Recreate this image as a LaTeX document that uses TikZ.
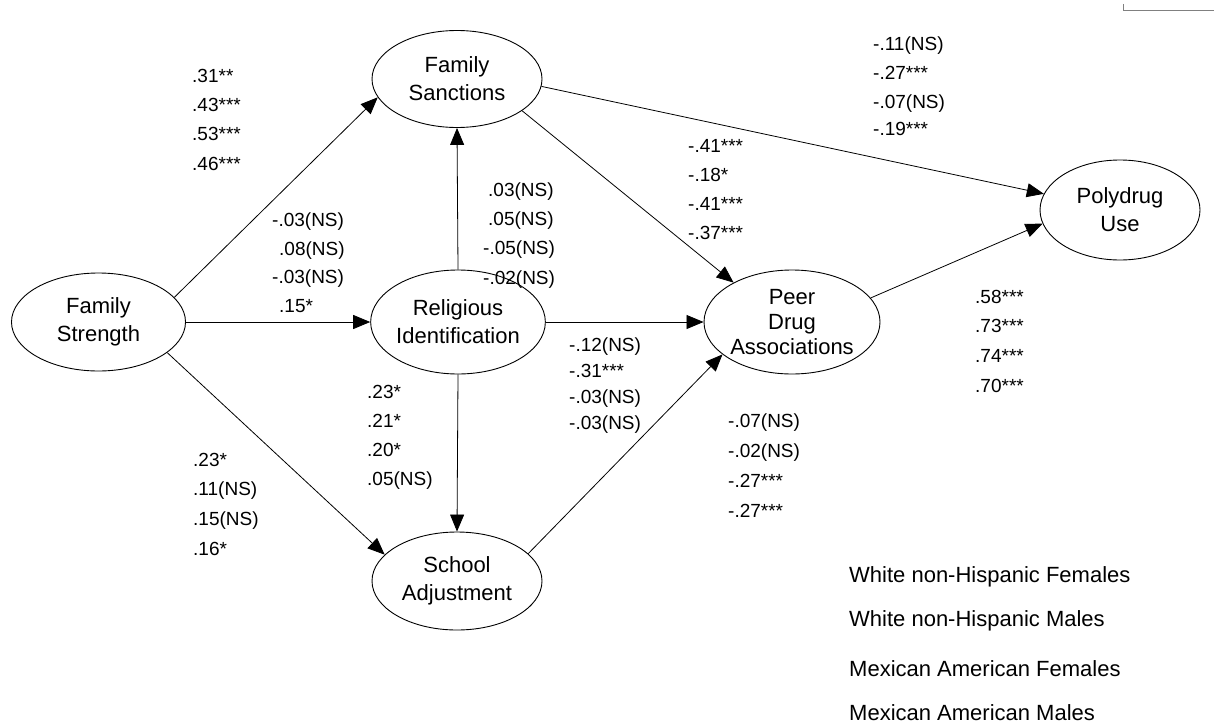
\documentclass[tikz,border=0pt]{standalone}
\usepackage{fontspec}
\setmainfont{Liberation Sans}
\usetikzlibrary{shapes.geometric,arrows.meta}
\newcommand\sig[1]{#1}
\begin{document}
\begin{tikzpicture}[x=1pt,y=-1pt,
  var/.style={ellipse,draw,line width=0.9pt,inner sep=0pt,align=center,font=\fontsize{22}{28}\selectfont},
  arr/.style={-{Triangle[length=17pt,width=14pt]},line width=0.8pt},
  lbl/.style={anchor=base west,inner sep=0pt,font=\fontsize{19}{22}\selectfont},
  leg/.style={anchor=base west,inner sep=0pt,font=\fontsize{22}{25}\selectfont}]
\useasboundingbox (0,0) rectangle (1214,725);
% variables
\node[var,minimum width=174pt,minimum height=98pt] (fs) at (98.5,322) {Family\\Strength};
\node[var,minimum width=170pt,minimum height=97pt] (fsa) at (457,79) {Family\\Sanctions};
\node[var,minimum width=174pt,minimum height=104pt] (ri) at (458,322) {Religious\\Identification};
\node[var,minimum width=170pt,minimum height=98pt] (sa) at (457,581) {School\\Adjustment};
\node[var,minimum width=176pt,minimum height=104pt,font=\fontsize{22}{25}\selectfont] (pda) at (792,322) {Peer\\Drug\\Associations};
\node[var,minimum width=160pt,minimum height=100pt] (pu) at (1120,210) {Polydrug\\Use};
% paths
\draw[arr] (fs.18) -- (fsa.193);
\draw[arr] (fs.east) -- (ri.west);
\draw[arr] (fs.-24) -- (sa.160);
\draw[arr] (ri.north) -- (fsa.south);
\draw[arr] (ri.south) -- (sa.north);
\draw[arr] (ri.east) -- (pda.west);
\draw[arr] (fsa.-26) -- (pda.146);
\draw[arr] (fsa.-5) -- (pu.168);
\draw[arr] (sa.21) -- (pda.205);
\draw[arr] (pda.17) -- (pu.190);
% scan remnant at top right
\draw[line width=0.6pt,gray] (1123,4) -- (1123,10) -- (1214,10);
% FS -> FSanc
\node[lbl] (a1) at (192,82) {.31\sig{**}};
\node[lbl] (a2) at (192,111) {.43\sig{***}};
\node[lbl] (a3) at (192,140) {.53\sig{***}};
\node[lbl] (a4) at (192,170) {.46\sig{***}};
% FS -> RI
\node[lbl] (b1) at (272,226) {-.03(NS)};
\node[lbl] (b2) at (279,255) {.08(NS)};
\node[lbl] (b3) at (272,283) {-.03(NS)};
\node[lbl] (b4) at (279,312) {.15\sig{*}};
% RI -> FSanc
\node[lbl] (c1) at (488,196) {.03(NS)};
\node[lbl] (c2) at (488,225) {.05(NS)};
\node[lbl] (c3) at (483,254) {-.05(NS)};
\node[lbl] (c4) at (483,284) {-.02(NS)};
% FSanc -> PDA
\node[lbl] (d1) at (688,152) {-.41\sig{***}};
\node[lbl] (d2) at (688,181) {-.18\sig{*}};
\node[lbl] (d3) at (688,210) {-.41\sig{***}};
\node[lbl] (d4) at (688,239) {-.37\sig{***}};
% FSanc -> PU
\node[lbl] (e1) at (873,51) {-.11(NS)};
\node[lbl] (e2) at (873,79) {-.27\sig{***}};
\node[lbl] (e3) at (873,108) {-.07(NS)};
\node[lbl] (e4) at (873,135) {-.19\sig{***}};
% RI -> PDA
\node[lbl] (f1) at (569,351) {-.12(NS)};
\node[lbl] (f2) at (569,377) {-.31\sig{***}};
\node[lbl] (f3) at (569,403) {-.03(NS)};
\node[lbl] (f4) at (569,429) {-.03(NS)};
% RI -> SA
\node[lbl] (g1) at (367,398) {.23\sig{*}};
\node[lbl] (g2) at (367,427) {.21\sig{*}};
\node[lbl] (g3) at (367,456) {.20\sig{*}};
\node[lbl] (g4) at (367,485) {.05(NS)};
% FS -> SA
\node[lbl] (h1) at (193,466) {.23\sig{*}};
\node[lbl] (h2) at (193,495) {.11(NS)};
\node[lbl] (h3) at (193,525) {.15(NS)};
\node[lbl] (h4) at (193,555) {.16\sig{*}};
% SA -> PDA
\node[lbl] (i1) at (728,427) {-.07(NS)};
\node[lbl] (i2) at (728,457) {-.02(NS)};
\node[lbl] (i3) at (728,487) {-.27\sig{***}};
\node[lbl] (i4) at (728,517) {-.27\sig{***}};
% PDA -> PU
\node[lbl] (j1) at (975,303) {.58\sig{***}};
\node[lbl] (j2) at (975,332) {.73\sig{***}};
\node[lbl] (j3) at (975,362) {.74\sig{***}};
\node[lbl] (j4) at (975,392) {.70\sig{***}};
% legend
\node[leg] (k1) at (849,582) {White non-Hispanic Females};
\node[leg] (k2) at (849,626) {White non-Hispanic Males};
\node[leg] (k3) at (849,676) {Mexican American Females};
\node[leg] (k4) at (849,720) {Mexican American Males};
\end{tikzpicture}
\end{document}
